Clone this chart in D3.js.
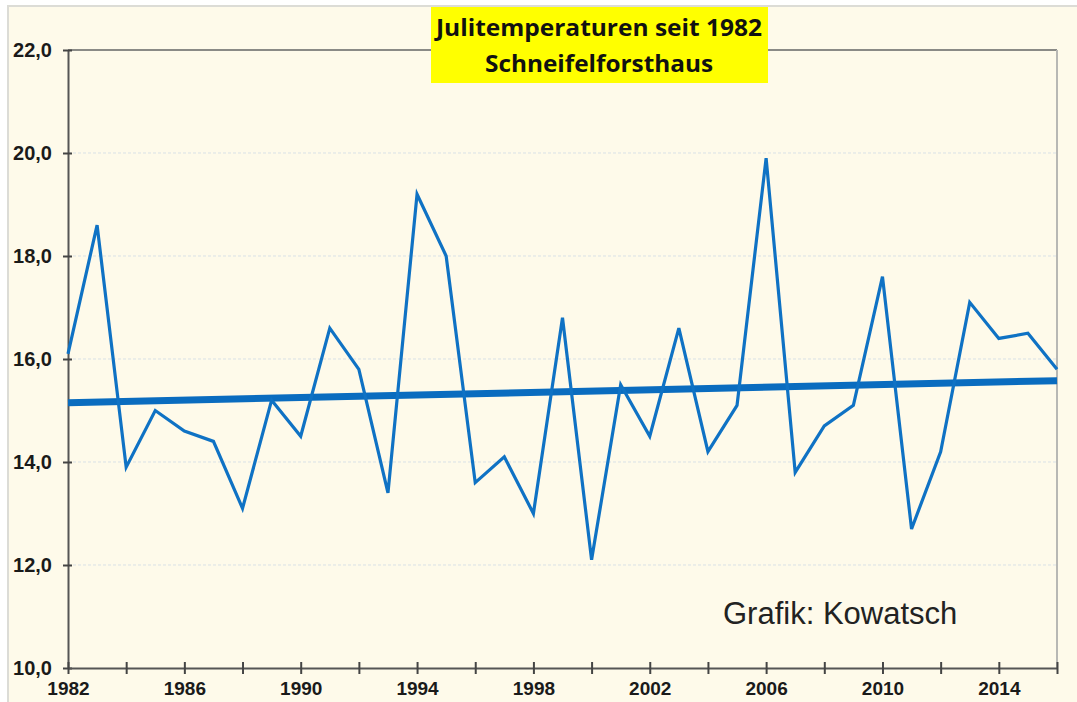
<!DOCTYPE html>
<html>
<head>
<meta charset="utf-8">
<script src="https://cdn.jsdelivr.net/npm/d3@7"></script>
<style>
  body { margin: 0; background: #fff; }
  svg { display: block; }
</style>
</head>
<body>
<svg id="chart" width="1077" height="702"></svg>
<script>
// Julitemperaturen Schneifelforsthaus
const years = d3.range(1982, 2017);
const temps = [16.1, 18.6, 13.9, 15.0, 14.6, 14.4, 13.1, 15.2, 14.5, 16.6,
               15.8, 13.4, 19.2, 18.0, 13.6, 14.1, 13.0, 16.8, 12.1, 15.5,
               14.5, 16.6, 14.2, 15.1, 19.9, 13.8, 14.7, 15.1, 17.6, 12.7,
               14.2, 17.1, 16.4, 16.5, 15.8];
const trendYears = [1982, 2016];
const trendTemps = [15.15, 15.58];
const yTicks = [10, 12, 14, 16, 18, 20, 22];
const xTicks = d3.range(1982, 2017, 2);
const xLabels = d3.range(1982, 2017, 4);
const titleLines = ["Julitemperaturen seit 1982", "Schneifelforsthaus"];

let svg = d3.select("svg#chart"),
margin = { top: 50, right: 20, bottom: 34, left: 68 },
width = svg.attr("width") - margin.left - margin.right,
height = svg.attr("height") - margin.top - margin.bottom;

// outer frame
svg.append("rect")
    .attr("x", 8).attr("y", 6)
    .attr("width", 1077).attr("height", 702)
    .attr("fill", "#fefaea")
    .attr("stroke", "#dcdcd6").attr("stroke-width", 2);

let g = svg.append("g").attr("transform", `translate(${margin.left},${margin.top})`);

let x = d3.scaleLinear().domain([1982, 2016]).range([0, width]);
let y = d3.scaleLinear().domain([10, 22]).range([height, 0]);

// grid lines
g.selectAll(".grid")
    .data(yTicks.filter(d => d > 10 && d < 22))
    .enter().append("line")
    .attr("class", "grid")
    .attr("x1", 0).attr("x2", width)
    .attr("y1", d => y(d)).attr("y2", d => y(d))
    .attr("stroke", "#d9e1e6")
    .attr("stroke-width", 1)
    .attr("stroke-dasharray", "3,2");

// top and right border of the plot
g.append("line")
    .attr("x1", 0).attr("x2", width).attr("y1", 0).attr("y2", 0)
    .attr("stroke", "#8a8a86").attr("stroke-width", 2);
g.append("line")
    .attr("x1", width).attr("x2", width).attr("y1", 0).attr("y2", height)
    .attr("stroke", "#b8b8b4").attr("stroke-width", 2);

// y axis
let yAxis = d3.axisLeft(y)
    .tickValues(yTicks)
    .tickSizeInner(5).tickSizeOuter(0)
    .tickFormat(d => d3.format(".1f")(d).replace(".", ","));
let ya = g.append("g").call(yAxis);
ya.select(".domain").attr("stroke", "#555").attr("stroke-width", 2);
ya.selectAll(".tick line").attr("x2", 4).attr("x1", -5).attr("stroke", "#444").attr("stroke-width", 2);
ya.selectAll(".tick text")
    .attr("x", -16)
    .style("font-family", "'Liberation Sans', Arial, sans-serif")
    .style("font-weight", "bold")
    .style("font-size", "20px")
    .attr("fill", "#1a1a1a");

// x axis
let xAxis = d3.axisBottom(x)
    .tickValues(xTicks)
    .tickSizeOuter(0)
    .tickFormat(d => xLabels.includes(d) ? d : "");
let xa = g.append("g").attr("transform", `translate(0,${height})`).call(xAxis);
xa.select(".domain").attr("stroke", "#555").attr("stroke-width", 2);
xa.selectAll(".tick line").attr("y1", -6).attr("y2", 6).attr("stroke", "#444").attr("stroke-width", 2);
xa.selectAll(".tick text")
    .attr("y", 14)
    .style("font-family", "'Liberation Sans', Arial, sans-serif")
    .style("font-weight", "bold")
    .style("font-size", "19px")
    .attr("fill", "#1a1a1a");

// trend line
let line = d3.line().x(d => x(d[0])).y(d => y(d[1]));
g.append("path")
    .datum(d3.zip(trendYears, trendTemps))
    .attr("d", line)
    .attr("fill", "none")
    .attr("stroke", "#0a6cbf")
    .attr("stroke-width", 7);

// data line
g.append("path")
    .datum(d3.zip(years, temps))
    .attr("d", line)
    .attr("fill", "none")
    .attr("stroke", "#0f72c4")
    .attr("stroke-width", 3.2)
    .attr("stroke-linejoin", "miter");

// title box
svg.append("rect")
    .attr("x", 431).attr("y", 7)
    .attr("width", 337).attr("height", 76)
    .attr("fill", "#ffff00");
svg.selectAll(".title")
    .data(titleLines)
    .enter().append("text")
    .attr("class", "title")
    .attr("x", 599)
    .attr("y", (d, i) => 36 + i * 36)
    .attr("text-anchor", "middle")
    .attr("textLength", (d, i) => i === 0 ? 326 : 228)
    .attr("lengthAdjust", "spacingAndGlyphs")
    .style("font-family", "'Open Sans', sans-serif")
    .style("font-weight", "bold")
    .style("font-size", "24px")
    .attr("fill", "#111")
    .text(d => d);

// credit
svg.append("text")
    .attr("x", 723).attr("y", 624)
    .style("font-family", "'Liberation Sans', Arial, sans-serif")
    .style("font-size", "31px")
    .attr("fill", "#222")
    .text("Grafik: Kowatsch");
</script>
</body>
</html>
